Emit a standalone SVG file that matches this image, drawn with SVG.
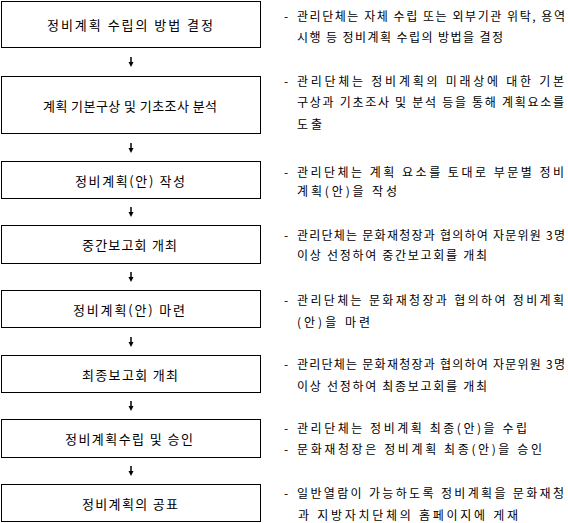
<svg xmlns="http://www.w3.org/2000/svg" width="568" height="523" viewBox="0 0 568 523">
<style>
.box{fill:#fff;stroke:#000;stroke-width:1}
.bt{font-family:"Noto Sans CJK KR","Noto Sans",sans-serif;font-size:13px;fill:#000;dominant-baseline:central}
.rt{font-family:"Noto Sans CJK KR","Noto Sans",sans-serif;font-size:12px;fill:#000;dominant-baseline:central}
.con{stroke:#000;stroke-width:1.5;fill:none}
.head{fill:#000}
</style>
<rect width="568" height="523" fill="#fff"/>
<g id="connectors">
<path class="con" d="M131,57V63"/><path class="head" d="M128.5,62 L133.5,62 L131,67 Z"/>
<path class="con" d="M131,143V149"/><path class="head" d="M128.5,148 L133.5,148 L131,153 Z"/>
<path class="con" d="M131,207V213"/><path class="head" d="M128.5,212 L133.5,212 L131,217 Z"/>
<path class="con" d="M131,272V278"/><path class="head" d="M128.5,277 L133.5,277 L131,282 Z"/>
<path class="con" d="M131,337V343"/><path class="head" d="M128.5,342 L133.5,342 L131,347 Z"/>
<path class="con" d="M131,401V407"/><path class="head" d="M128.5,406 L133.5,406 L131,411 Z"/>
<path class="con" d="M131,466V472"/><path class="head" d="M128.5,471 L133.5,471 L131,476 Z"/>
</g>
<g id="node1">
<rect class="box" x="1.5" y="1.5" width="259" height="46"/>
<text class="bt" x="47" y="24" textLength="166" lengthAdjust="spacing">정비계획 수립의 방법 결정</text>
</g>
<g id="node2">
<rect class="box" x="1.5" y="76.5" width="259" height="57"/>
<text class="bt" x="43" y="105" textLength="174" lengthAdjust="spacing">계획 기본구상 및 기초조사 분석</text>
</g>
<g id="node3">
<rect class="box" x="1.5" y="161.5" width="259" height="37"/>
<text class="bt" x="75" y="180.5" textLength="110" lengthAdjust="spacing">정비계획(안) 작성</text>
</g>
<g id="node4">
<rect class="box" x="1.5" y="225.5" width="259" height="38"/>
<text class="bt" x="82" y="244.5" textLength="95" lengthAdjust="spacing">중간보고회 개최</text>
</g>
<g id="node5">
<rect class="box" x="1.5" y="290.5" width="259" height="37"/>
<text class="bt" x="73" y="309" textLength="112" lengthAdjust="spacing">정비계획(안) 마련</text>
</g>
<g id="node6">
<rect class="box" x="1.5" y="355.5" width="259" height="37"/>
<text class="bt" x="82" y="374" textLength="96" lengthAdjust="spacing">최종보고회 개최</text>
</g>
<g id="node7">
<rect class="box" x="1.5" y="419.5" width="259" height="38"/>
<text class="bt" x="65" y="438.5" textLength="128" lengthAdjust="spacing">정비계획수립 및 승인</text>
</g>
<g id="node8">
<rect class="box" x="1.5" y="484.5" width="259" height="37"/>
<text class="bt" x="82" y="503" textLength="96" lengthAdjust="spacing">정비계획의 공표</text>
</g>
<g id="desc1">
<text class="rt" y="15"><tspan x="284">-</tspan><tspan x="297" textLength="268" lengthAdjust="spacing">관리단체는 자체 수립 또는 외부기관 위탁, 용역</tspan></text>
<text class="rt" x="297" y="36" textLength="206" lengthAdjust="spacing">시행 등 정비계획 수립의 방법을 결정</text>
</g>
<g id="desc2">
<text class="rt" y="80"><tspan x="284">-</tspan><tspan x="297" textLength="267" lengthAdjust="spacing">관리단체는 정비계획의 미래상에 대한 기본</tspan></text>
<text class="rt" x="297" y="101" textLength="267" lengthAdjust="spacing">구상과 기초조사 및 분석 등을 통해 계획요소를</text>
<text class="rt" x="297" y="123" textLength="25" lengthAdjust="spacing">도출</text>
</g>
<g id="desc3">
<text class="rt" y="171"><tspan x="284">-</tspan><tspan x="297" textLength="267" lengthAdjust="spacing">관리단체는 계획 요소를 토대로 부문별 정비</tspan></text>
<text class="rt" x="297" y="190" textLength="100" lengthAdjust="spacing">계획(안)을 작성</text>
</g>
<g id="desc4">
<text class="rt" y="234"><tspan x="284">-</tspan><tspan x="297" textLength="268" lengthAdjust="spacing">관리단체는 문화재청장과 협의하여 자문위원 3명</tspan></text>
<text class="rt" x="297" y="254" textLength="190" lengthAdjust="spacing">이상 선정하여 중간보고회를 개최</text>
</g>
<g id="desc5">
<text class="rt" y="299"><tspan x="284">-</tspan><tspan x="297" textLength="267" lengthAdjust="spacing">관리단체는 문화재청장과 협의하여 정비계획</tspan></text>
<text class="rt" x="297" y="321" textLength="73" lengthAdjust="spacing">(안)을 마련</text>
</g>
<g id="desc6">
<text class="rt" y="363"><tspan x="284">-</tspan><tspan x="297" textLength="268" lengthAdjust="spacing">관리단체는 문화재청장과 협의하여 자문위원 3명</tspan></text>
<text class="rt" x="297" y="385" textLength="190" lengthAdjust="spacing">이상 선정하여 최종보고회를 개최</text>
</g>
<g id="desc7">
<text class="rt" y="427"><tspan x="284">-</tspan><tspan x="297" textLength="230" lengthAdjust="spacing">관리단체는 정비계획 최종(안)을 수립</tspan></text>
<text class="rt" y="448"><tspan x="284">-</tspan><tspan x="297" textLength="245" lengthAdjust="spacing">문화재청장은 정비계획 최종(안)을 승인</tspan></text>
</g>
<g id="desc8">
<text class="rt" y="492"><tspan x="284">-</tspan><tspan x="297" textLength="267" lengthAdjust="spacing">일반열람이 가능하도록 정비계획을 문화재청</tspan></text>
<text class="rt" x="298" y="514" textLength="220" lengthAdjust="spacing">과 지방자치단체의 홈페이지에 게재</text>
</g>
</svg>
